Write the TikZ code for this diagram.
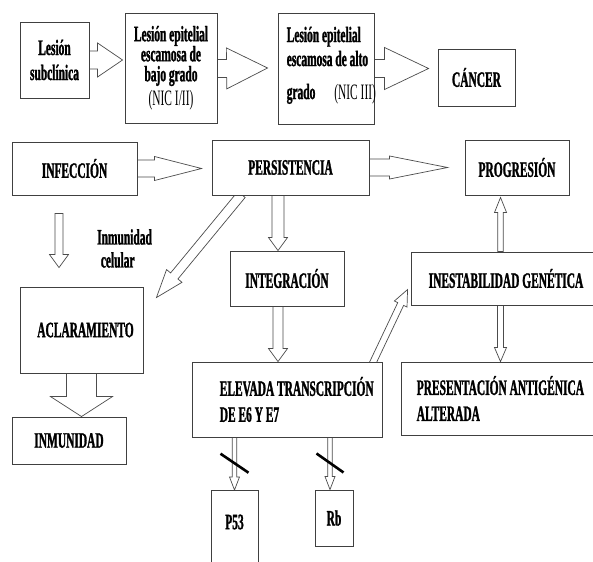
\documentclass[tikz,border=0pt]{standalone}
\usepackage{fontspec}
\setmainfont{Liberation Serif}[FakeStretch=0.52, BoldFeatures={FakeBold=1.2}]
\usetikzlibrary{calc,backgrounds}
\tikzset{
  box/.style={draw=black!75, line width=0.9pt, fill=white, inner sep=0pt, align=center,
              font=\fontsize{22}{20}\selectfont\bfseries},
  txt/.style={inner sep=0pt, font=\fontsize{22}{20}\selectfont\bfseries},
  arrline/.style={draw=black!70, line width=0.7pt, fill=white, line join=miter},
  slash/.style={draw=black, line width=2.6pt},
}
\newcommand\blockarrow[5]{%
  \coordinate (ba) at #1;
  \coordinate (bb) at #2;
  \coordinate (bm) at ($(bb)!#5!(ba)$);
  \draw[arrline] ($(ba)!#3!90:(bb)$) -- ($(bm)!#3!-90:(ba)$) -- ($(bm)!#4!-90:(ba)$)
    -- (bb) -- ($(bm)!#4!90:(ba)$) -- ($(bm)!#3!90:(ba)$) -- ($(ba)!#3!-90:(bb)$) -- cycle;}
\begin{document}
\begin{tikzpicture}[x=1pt,y=-1pt]
\useasboundingbox (0,0) rectangle (593,561);
\clip (0,0) rectangle (593,561);
% boxes
\node[box, minimum width=69pt, minimum height=76pt] (sub) at (54.5,60) {Lesión\\[5pt]subclínica};
\node[box, minimum width=92pt, minimum height=110pt] (low) at (171,68) {Lesión epitelial\\escamosa de\\bajo grado\\[3pt]{\mdseries (NIC I/II)}};
\node[box, minimum width=96pt, minimum height=111pt] (high) at (326,68.5) {};
\node[txt, anchor=north west, align=left] (hight) at ([xshift=9pt,yshift=-14pt]high.north west) {Lesión epitelial\\[4pt]escamosa de alto\\[13pt]grado\hspace{19pt}{\mdseries (NIC III)}};
\node[box, minimum width=77pt, minimum height=57pt] (can) at (476.5,77.5) {CÁNCER};
\node[box, minimum width=125pt, minimum height=53pt] (inf) at (74.5,168.5) {INFECCIÓN};
\node[box, minimum width=157pt, minimum height=55pt] (per) at (290.5,167.5) {PERSISTENCIA};
\node[box, minimum width=104pt, minimum height=55pt] (prog) at (517,167.5) {PROGRESIÓN};
\node[box, minimum width=114pt, minimum height=55pt] (integ) at (287,278.5) {INTEGRACIÓN};
\node[box, minimum width=123pt, minimum height=86pt] (acl) at (81.5,330) {\hspace{8pt}ACLARAMIENTO};
\node[box, minimum width=114pt, minimum height=47pt] (inm) at (69,440.5) {INMUNIDAD};
\node[box, minimum width=190pt, minimum height=75pt] (elev) at (287,399.5) {};
\node[txt, anchor=west, align=left] (elevt) at ([xshift=28pt]elev.west) {ELEVADA TRANSCRIPCIÓN\\[6pt]DE E6 Y E7};
\node[box, minimum width=190pt, minimum height=53pt] (inest) at (506,278.5) {INESTABILIDAD GENÉTICA};
\node[box, minimum width=212pt, minimum height=73pt] (pres) at (507,398.5) {};
\node[txt, anchor=west, align=left] (prest) at ([xshift=16pt]pres.west) {PRESENTACIÓN ANTIGÉNICA\\[6pt]ALTERADA};
\node[box, minimum width=47pt, minimum height=110pt, anchor=north] (p53) at (234.5,490) {};
\node[txt] (p53t) at ([yshift=-32pt]p53.north) {P53};
\node[box, minimum width=38pt, minimum height=56pt] (rb) at (334,518) {Rb};
\node[txt, anchor=west, align=left] (celular) at (97,248.5) {Inmunidad\\[3pt]\,celular};
% arrows
\begin{scope}[on background layer]
\fill[white] (0,0) rectangle (593,561);
\blockarrow{(sub.east)}{([xshift=-2pt]low.west |- sub.east)}{9pt}{17pt}{25pt}
\blockarrow{([yshift=-0.5pt]low.east)}{([xshift=-10pt]high.west |- low.east)}{9pt}{20.5pt}{41pt}
\blockarrow{(high.east)}{([xshift=-9pt]can.west |- high.east)}{9pt}{21pt}{44pt}
\blockarrow{(inf.east)}{([xshift=-10pt]per.west |- inf.east)}{8.5pt}{12pt}{47pt}
\blockarrow{(per.east)}{([xshift=-17pt]prog.west |- per.east)}{8.5pt}{11.5pt}{58pt}
\blockarrow{([xshift=-15.5pt,yshift=-18pt]inf.south)}{([xshift=-22.5pt,yshift=19pt]acl.north)}{4pt}{9.5pt}{13pt}
\blockarrow{([xshift=-12.5pt]per.south)}{([xshift=-9pt]integ.north)}{6pt}{9.5pt}{13pt}
\blockarrow{([xshift=-49pt,yshift=1pt]per.south)}{([xshift=13pt,yshift=-11pt]acl.north east)}{4.75pt}{10pt}{28pt}
\blockarrow{(acl.south)}{(acl.south |- inm.north)}{15pt}{31pt}{20pt}
\blockarrow{([xshift=-9pt]integ.south)}{([xshift=-9pt]elev.north)}{5pt}{9.5pt}{13pt}
\blockarrow{([xshift=-10pt,yshift=-2pt]elev.north east)}{([xshift=-3pt,yshift=-38pt]inest.north west)}{3.25pt}{7pt}{16pt}
\blockarrow{([xshift=-5.5pt]inest.north)}{([xshift=-5.5pt,yshift=-2pt]inest.north |- prog.south)}{2.75pt}{6pt}{15pt}
\blockarrow{([xshift=-5.5pt]inest.south)}{([xshift=-5.5pt]inest.south |- pres.north)}{3pt}{6pt}{14pt}
\blockarrow{(p53.north |- elev.south)}{(p53.north)}{2.25pt}{5pt}{13pt}
\blockarrow{([xshift=-4pt]rb.north |- elev.south)}{([xshift=-4pt]rb.north)}{2.25pt}{5pt}{13pt}
\end{scope}
% inhibition slashes
\coordinate (s1) at ($(p53.north |- elev.south)!0.49!(p53.north)$);
\coordinate (s2) at ($([xshift=-4pt]rb.north |- elev.south)!0.49!([xshift=-4pt]rb.north)$);
\draw[slash] ([shift={(-14pt,9.5pt)}]s1) -- ([shift={(14pt,-9.5pt)}]s1);
\draw[slash] ([shift={(-13.5pt,9.5pt)}]s2) -- ([shift={(13.5pt,-9.5pt)}]s2);
\end{tikzpicture}
\end{document}
